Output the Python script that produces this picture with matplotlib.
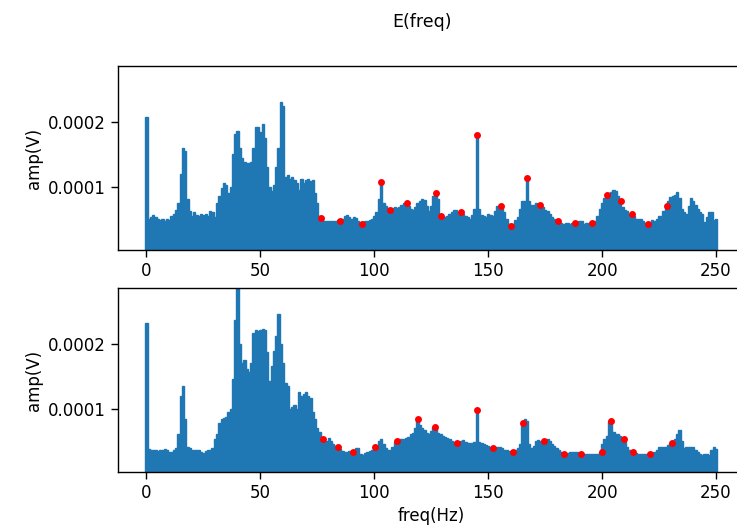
import numpy as np
import matplotlib
matplotlib.use("Agg")
import matplotlib.pyplot as plt

# Frequency bins (Hz)
freq = np.arange(0, 251)

# Upper panel amplitude envelope (units of 1e-4 V)
amp_top = [
    2.08, 0.50, 0.52, 0.56, 0.52, 0.50, 0.48, 0.50, 0.47, 0.49,
    0.48, 0.55, 0.58, 0.64, 0.75, 1.20, 1.59, 1.55, 0.80, 0.62,
    0.55, 0.60, 0.56, 0.55, 0.58, 0.56, 0.57, 0.55, 0.62, 0.60,
    0.52, 0.75, 0.85, 0.98, 1.05, 1.02, 0.90, 1.00, 1.50, 1.82,
    1.86, 1.60, 1.45, 1.38, 1.37, 1.36, 1.38, 1.60, 1.93, 1.92,
    1.85, 1.97, 1.75, 1.30, 1.00, 0.93, 1.03, 1.30, 1.60, 2.31,
    2.25, 1.15, 1.18, 1.12, 1.15, 1.10, 1.05, 0.95, 1.12, 1.05,
    1.10, 1.12, 1.08, 1.10, 0.90, 0.75, 0.55, 0.50, 0.47, 0.46,
    0.46, 0.47, 0.46, 0.47, 0.48, 0.47, 0.50, 0.55, 0.56, 0.52,
    0.50, 0.52, 0.51, 0.47, 0.43, 0.44, 0.47, 0.47, 0.48, 0.50,
    0.54, 0.60, 0.80, 1.07, 0.75, 0.70, 0.65, 0.63, 0.66, 0.68,
    0.66, 0.68, 0.72, 0.74, 0.75, 0.70, 0.65, 0.64, 0.68, 0.75,
    0.78, 0.80, 0.79, 0.70, 0.62, 0.70, 0.85, 0.90, 0.80, 0.55,
    0.55, 0.52, 0.55, 0.58, 0.60, 0.64, 0.63, 0.60, 0.61, 0.58,
    0.55, 0.52, 0.50, 0.56, 0.65, 1.80, 0.65, 0.56, 0.55, 0.52,
    0.57, 0.56, 0.55, 0.62, 0.70, 0.70, 0.66, 0.60, 0.50, 0.42,
    0.40, 0.42, 0.48, 0.52, 0.65, 0.77, 0.78, 1.13, 0.78, 0.72,
    0.72, 0.74, 0.73, 0.72, 0.68, 0.64, 0.62, 0.58, 0.52, 0.50,
    0.47, 0.46, 0.44, 0.42, 0.43, 0.44, 0.42, 0.43, 0.43, 0.45,
    0.47, 0.46, 0.42, 0.44, 0.43, 0.43, 0.45, 0.47, 0.55, 0.65,
    0.75, 0.82, 0.87, 0.90, 0.92, 0.94, 0.93, 0.85, 0.77, 0.68,
    0.64, 0.62, 0.58, 0.57, 0.55, 0.50, 0.49, 0.49, 0.47, 0.44,
    0.42, 0.44, 0.48, 0.47, 0.50, 0.54, 0.55, 0.62, 0.69, 0.78,
    0.84, 0.85, 0.87, 0.91, 0.82, 0.65, 0.60, 0.58, 0.70, 0.82,
    0.78, 0.72, 0.65, 0.60, 0.57, 0.45, 0.52, 0.60, 0.60, 0.48,
    0.50,
]

# Lower panel amplitude envelope (units of 1e-4 V)
amp_bot = [
    2.33, 0.37, 0.36, 0.35, 0.35, 0.34, 0.36, 0.35, 0.37, 0.36,
    0.33, 0.32, 0.36, 0.39, 0.60, 1.20, 1.35, 0.84, 0.40, 0.38,
    0.36, 0.35, 0.36, 0.35, 0.33, 0.31, 0.34, 0.36, 0.36, 0.38,
    0.53, 0.60, 0.78, 0.84, 0.85, 0.87, 0.94, 1.00, 1.46, 2.38,
    2.90, 2.00, 1.71, 1.76, 1.62, 1.56, 1.71, 2.17, 2.22, 2.20,
    2.22, 2.23, 2.22, 1.87, 1.43, 1.66, 1.90, 2.12, 2.46, 2.00,
    1.70, 1.40, 1.35, 0.99, 1.02, 1.05, 1.00, 1.25, 1.20, 1.22,
    1.25, 1.20, 1.17, 0.95, 0.84, 0.70, 0.63, 0.55, 0.50, 0.49,
    0.55, 0.50, 0.45, 0.42, 0.40, 0.37, 0.34, 0.33, 0.33, 0.34,
    0.33, 0.36, 0.38, 0.38, 0.29, 0.28, 0.31, 0.33, 0.34, 0.36,
    0.40, 0.42, 0.50, 0.53, 0.45, 0.38, 0.36, 0.35, 0.40, 0.48,
    0.50, 0.52, 0.53, 0.53, 0.55, 0.56, 0.60, 0.62, 0.70, 0.84,
    0.75, 0.70, 0.66, 0.62, 0.60, 0.65, 0.72, 0.68, 0.62, 0.60,
    0.58, 0.56, 0.55, 0.52, 0.50, 0.48, 0.46, 0.47, 0.50, 0.51,
    0.48, 0.46, 0.46, 0.47, 0.48, 0.98, 0.48, 0.46, 0.45, 0.44,
    0.42, 0.40, 0.38, 0.38, 0.40, 0.40, 0.38, 0.36, 0.35, 0.34,
    0.32, 0.32, 0.35, 0.38, 0.45, 0.78, 0.83, 0.80, 0.45, 0.38,
    0.42, 0.50, 0.51, 0.50, 0.49, 0.50, 0.53, 0.50, 0.45, 0.42,
    0.38, 0.35, 0.32, 0.29, 0.30, 0.31, 0.33, 0.32, 0.33, 0.32,
    0.29, 0.30, 0.29, 0.30, 0.29, 0.29, 0.30, 0.29, 0.30, 0.33,
    0.45, 0.53, 0.58, 0.81, 0.78, 0.64, 0.60, 0.60, 0.58, 0.52,
    0.48, 0.40, 0.35, 0.32, 0.31, 0.31, 0.30, 0.30, 0.29, 0.29,
    0.29, 0.29, 0.30, 0.33, 0.36, 0.40, 0.40, 0.41, 0.40, 0.43,
    0.47, 0.50, 0.53, 0.60, 0.66, 0.50, 0.38, 0.40, 0.40, 0.41,
    0.40, 0.36, 0.32, 0.30, 0.28, 0.30, 0.29, 0.28, 0.35, 0.40,
    0.37,
]

# Detected peaks (red markers)
peaks_top_f = [76.5, 84.8, 94.6, 103, 107, 114.4, 127.3, 129.2, 138.2, 145,
               155.4, 160.2, 167, 172.7, 180.7, 188, 195.6, 202.1, 208.1,
               212.9, 220.3, 228.3]
peaks_top_v = [0.51, 0.47, 0.42, 1.07, 0.63, 0.75, 0.90, 0.54, 0.60, 1.80,
               0.69, 0.39, 1.13, 0.72, 0.46, 0.43, 0.43, 0.87, 0.77,
               0.57, 0.42, 0.69]

peaks_bot_f = [77.4, 84.0, 90.5, 100.5, 110.1, 119.1, 126.6, 136.5, 145, 152.2,
               161.0, 165.4, 174.6, 183.4, 190.7, 199.8, 203.9, 209.7, 213.7,
               221.0, 230.8]
peaks_bot_v = [0.52, 0.40, 0.33, 0.40, 0.50, 0.84, 0.72, 0.46, 0.98, 0.38,
               0.32, 0.78, 0.49, 0.29, 0.29, 0.33, 0.81, 0.52, 0.32,
               0.29, 0.47]

xticks = [0, 50, 100, 150, 200, 250]
yticks = [0.0001, 0.0002]
ytick_labels = ["0.0001", "0.0002"]

SCALE = 1e-4
BLUE = "#1f77b4"

plt.rcParams["font.family"] = ["DejaVu Sans"]
plt.rcParams["font.size"] = 12

W, H = 737, 529
fig = plt.figure(figsize=(W / 100, H / 100), dpi=100)

left = 118 / W
width = 626.5 / W
ax_h = 184 / H
ax1 = fig.add_axes([left, (H - 250) / H, width, ax_h])
ax2 = fig.add_axes([left, (H - 472) / H, width, ax_h])

edges = np.append(freq - 0.5, freq[-1] + 0.5)

for ax, amp, pf, pv in [(ax1, amp_top, peaks_top_f, peaks_top_v),
                        (ax2, amp_bot, peaks_bot_f, peaks_bot_v)]:
    a = np.array(amp) * SCALE
    ax.stairs(a, edges, baseline=0, fill=True, facecolor=BLUE,
              edgecolor=BLUE, linewidth=1.0)
    ax.plot(pf, np.array(pv) * SCALE, "o", color="red", markersize=5,
            markeredgewidth=0)
    ax.set_xlim(-12.5, 262.5)
    ax.set_ylim(0.015e-4, 2.87e-4)
    ax.set_xticks(xticks)
    ax.set_yticks(yticks)
    ax.set_yticklabels(ytick_labels)
    ax.set_ylabel("amp(V)")
    ax.tick_params(length=5, width=1)
    for s in ax.spines.values():
        s.set_linewidth(1.0)

ax2.set_xlabel("freq(Hz)")
fig.text(0.573, 1 - 22 / H, "E(freq)", ha="center", va="center", fontsize=12.5)

fig.savefig("out.png", dpi=100)
